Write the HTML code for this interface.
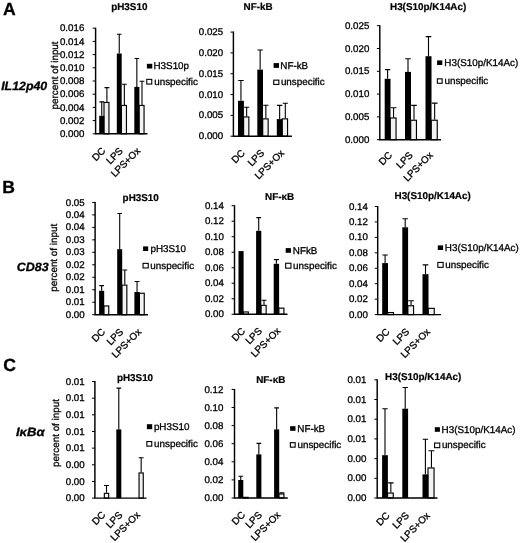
<!DOCTYPE html>
<html lang="en"><head><meta charset="utf-8"><title>ChIP figure</title>
<style>
html,body{margin:0;padding:0;background:#fff;}
body{width:520px;height:543px;overflow:hidden;}
svg{display:block;text-rendering:geometricPrecision;font-family:"Liberation Sans",sans-serif;}
.t{font-size:9.85px;fill:#000;stroke:#000;stroke-width:0.3px;}
.k{font-size:9.72px;}
.yl{font-size:9.87px;}
.tt{font-size:9.9px;font-weight:bold;fill:#000;stroke:#000;stroke-width:0.2px;}
.pl{font-size:17.6px;font-weight:bold;fill:#000;stroke:#000;stroke-width:0.3px;}
.gl{font-size:12px;font-weight:bold;font-style:italic;fill:#000;stroke:#000;stroke-width:0.3px;}
.ax{stroke:#000;stroke-width:1.45;fill:none;}
.tk{stroke:#000;stroke-width:1;fill:none;}
.eb{stroke:#000;stroke-width:1.1;fill:none;}
.bb{fill:#000;stroke:none;}
.wb{fill:#f2f2f2;stroke:#000;stroke-width:1.15;}
.wl{fill:#fff;stroke:#000;stroke-width:1.1;}
</style></head><body>
<svg width="520" height="543" viewBox="0 0 520 543">
<rect x="0" y="0" width="520" height="543" fill="#fff"/>
<g id="A1">
<path class="eb" d="M101.75 115.8 V101.9 M99.4 101.9 H104.1"/>
<path class="eb" d="M106.9 101.9 V87.6 M104.5 87.6 H109.3"/>
<rect class="wb" x="104" y="102.45" width="4.95" height="31.35"/>
<path class="eb" d="M119.25 53.5 V34.3 M117 34.3 H121.5"/>
<path class="eb" d="M124.35 104.9 V84.2 M121.9 84.2 H126.8"/>
<rect class="wb" x="121.4" y="105.45" width="5.05" height="28.35"/>
<path class="eb" d="M136.85 86.9 V58.5 M134.5 58.5 H139.2"/>
<path class="eb" d="M142 104.9 V81.2 M139.6 81.2 H144.4"/>
<rect class="wb" x="139.1" y="105.45" width="4.95" height="28.35"/>
<rect class="bb" x="99.2" y="115.8" width="5.1" height="18"/>
<rect class="bb" x="116.8" y="53.5" width="4.9" height="80.3"/>
<rect class="bb" x="134.3" y="86.9" width="5.1" height="46.9"/>
<path class="ax" d="M95.6 27.7 V133.8 H147.5"/>
<path class="tk" d="M92.7 133.8 H95.6M92.7 120.6 H95.6M92.7 107.4 H95.6M92.7 94.2 H95.6M92.7 81 H95.6M92.7 67.8 H95.6M92.7 54.6 H95.6M92.7 41.4 H95.6M92.7 28.2 H95.6"/>
<text class="t k" x="84.3" y="136.9" text-anchor="end">0.000</text>
<text class="t k" x="84.3" y="123.7" text-anchor="end">0.002</text>
<text class="t k" x="84.3" y="110.5" text-anchor="end">0.004</text>
<text class="t k" x="84.3" y="97.3" text-anchor="end">0.006</text>
<text class="t k" x="84.3" y="84.1" text-anchor="end">0.008</text>
<text class="t k" x="84.3" y="70.9" text-anchor="end">0.010</text>
<text class="t k" x="84.3" y="57.7" text-anchor="end">0.012</text>
<text class="t k" x="84.3" y="44.5" text-anchor="end">0.014</text>
<text class="t k" x="84.3" y="31.3" text-anchor="end">0.016</text>
<text class="t" text-anchor="end" transform="translate(106 151.5) rotate(-45)">DC</text>
<text class="t" text-anchor="end" transform="translate(123.5 151.5) rotate(-45)">LPS</text>
<text class="t" text-anchor="end" transform="translate(141 151.5) rotate(-45)">LPS+Ox</text>
<rect class="bb" x="146.9" y="63.8" width="5.4" height="4.7"/>
<text class="t" x="153.5" y="69.2">H3S10p</text>
<rect class="wl" x="146.75" y="79.35" width="5" height="4.7"/>
<text class="t" x="154.2" y="84.6">unspecific</text>
<text class="tt" x="111.2" y="9.6">pH3S10</text>
<text class="t yl" text-anchor="middle" transform="translate(58.2 75.4) rotate(-90)">percent of input</text>
</g>
<g id="A2">
<path class="eb" d="M240.95 100.8 V80.5 M238.2 80.5 H243.7"/>
<path class="eb" d="M246.65 116.4 V107.3 M244.1 107.3 H249.2"/>
<rect class="wb" x="243.6" y="116.95" width="5.25" height="19.25"/>
<path class="eb" d="M260.15 69.6 V50 M257.5 50 H262.8"/>
<path class="eb" d="M265.85 118.3 V105.2 M263.2 105.2 H268.5"/>
<rect class="wb" x="262.7" y="118.85" width="5.45" height="17.35"/>
<path class="eb" d="M279.65 119.1 V105.4 M277 105.4 H282.3"/>
<path class="eb" d="M285.3 118.3 V103.3 M282.7 103.3 H287.9"/>
<rect class="wb" x="282.2" y="118.85" width="5.35" height="17.35"/>
<rect class="bb" x="238" y="100.8" width="5.9" height="35.4"/>
<rect class="bb" x="257.3" y="69.6" width="5.7" height="66.6"/>
<rect class="bb" x="276.8" y="119.1" width="5.7" height="17.1"/>
<path class="ax" d="M233.4 31.6 V136.2 H291.9"/>
<path class="tk" d="M230.5 136.2 H233.4M230.5 115.38 H233.4M230.5 94.56 H233.4M230.5 73.74 H233.4M230.5 52.92 H233.4M230.5 32.1 H233.4"/>
<text class="t k" x="223.2" y="139.3" text-anchor="end">0.000</text>
<text class="t k" x="223.2" y="118.48" text-anchor="end">0.005</text>
<text class="t k" x="223.2" y="97.66" text-anchor="end">0.010</text>
<text class="t k" x="223.2" y="76.84" text-anchor="end">0.015</text>
<text class="t k" x="223.2" y="56.02" text-anchor="end">0.020</text>
<text class="t k" x="223.2" y="35.2" text-anchor="end">0.025</text>
<text class="t" text-anchor="end" transform="translate(245.6 153.7) rotate(-45)">DC</text>
<text class="t" text-anchor="end" transform="translate(264.8 153.7) rotate(-45)">LPS</text>
<text class="t" text-anchor="end" transform="translate(284.8 153.7) rotate(-45)">LPS+Ox</text>
<rect class="bb" x="273.6" y="63.1" width="5.4" height="4.8"/>
<text class="t" x="280.3" y="68.5">NF-kB</text>
<rect class="wl" x="273.75" y="80.15" width="5.1" height="4.3"/>
<text class="t" x="280.9" y="84.8">unspecific</text>
<text class="tt" x="243.6" y="9.6">NF-kB</text>
</g>
<g id="A3">
<path class="eb" d="M387.6 78.8 V69.6 M384.9 69.6 H390.3"/>
<path class="eb" d="M393.55 117.4 V107.7 M390.7 107.7 H396.4"/>
<rect class="wb" x="390.2" y="117.95" width="5.85" height="21.75"/>
<path class="eb" d="M408 71.9 V58.8 M405.2 58.8 H410.8"/>
<path class="eb" d="M414 119.7 V105.4 M411.2 105.4 H416.8"/>
<rect class="wb" x="410.7" y="120.25" width="5.75" height="19.45"/>
<path class="eb" d="M428.5 56.2 V36.6 M425.7 36.6 H431.3"/>
<path class="eb" d="M434.65 119.7 V103.1 M431.7 103.1 H437.6"/>
<rect class="wb" x="431.2" y="120.25" width="6.05" height="19.45"/>
<rect class="bb" x="384.7" y="78.8" width="5.8" height="60.9"/>
<rect class="bb" x="405" y="71.9" width="6" height="67.8"/>
<rect class="bb" x="425.5" y="56.2" width="6" height="83.5"/>
<path class="ax" d="M379.8 25.2 V139.7 H441"/>
<path class="tk" d="M376.9 139.7 H379.8M376.9 116.9 H379.8M376.9 94.1 H379.8M376.9 71.3 H379.8M376.9 48.5 H379.8M376.9 25.7 H379.8"/>
<text class="t k" x="369.3" y="142.8" text-anchor="end">0.000</text>
<text class="t k" x="369.3" y="120" text-anchor="end">0.005</text>
<text class="t k" x="369.3" y="97.2" text-anchor="end">0.010</text>
<text class="t k" x="369.3" y="74.4" text-anchor="end">0.015</text>
<text class="t k" x="369.3" y="51.6" text-anchor="end">0.020</text>
<text class="t k" x="369.3" y="28.8" text-anchor="end">0.025</text>
<text class="t" text-anchor="end" transform="translate(392.9 155.8) rotate(-45)">DC</text>
<text class="t" text-anchor="end" transform="translate(413.5 155.8) rotate(-45)">LPS</text>
<text class="t" text-anchor="end" transform="translate(433.5 155.8) rotate(-45)">LPS+Ox</text>
<rect class="bb" x="437.1" y="60.4" width="5.2" height="4.6"/>
<text class="t" x="444.3" y="65.6">H3(S10p/K14Ac)</text>
<rect class="wl" x="437.35" y="78.85" width="4.8" height="4.4"/>
<text class="t" x="444.5" y="83.9">unspecific</text>
<text class="tt" x="390" y="9.7">H3(S10p/K14Ac)</text>
</g>
<g id="B1">
<path class="eb" d="M101.65 290.8 V285.6 M99.3 285.6 H104"/>
<rect class="wb" x="103.9" y="305.95" width="4.85" height="8.75"/>
<path class="eb" d="M119.7 249.2 V213.5 M117.4 213.5 H122"/>
<path class="eb" d="M124.8 284.6 V270 M122.4 270 H127.2"/>
<rect class="wb" x="121.9" y="285.15" width="4.95" height="29.55"/>
<path class="eb" d="M137.05 292 V281.5 M134.6 281.5 H139.5"/>
<rect class="wb" x="139.4" y="293.25" width="4.85" height="21.45"/>
<rect class="bb" x="99.1" y="290.8" width="5.1" height="23.9"/>
<rect class="bb" x="117.2" y="249.2" width="5" height="65.5"/>
<rect class="bb" x="134.4" y="292" width="5.3" height="22.7"/>
<path class="ax" d="M95.1 201.9 V314.7 H148"/>
<path class="tk" d="M92.2 314.7 H95.1M92.2 302.22 H95.1M92.2 289.74 H95.1M92.2 277.27 H95.1M92.2 264.79 H95.1M92.2 252.31 H95.1M92.2 239.83 H95.1M92.2 227.36 H95.1M92.2 214.88 H95.1M92.2 202.4 H95.1"/>
<text class="t k" x="84.7" y="317.8" text-anchor="end">0.00</text>
<text class="t k" x="84.7" y="305.32" text-anchor="end">0.01</text>
<text class="t k" x="84.7" y="292.84" text-anchor="end">0.01</text>
<text class="t k" x="84.7" y="280.37" text-anchor="end">0.02</text>
<text class="t k" x="84.7" y="267.89" text-anchor="end">0.02</text>
<text class="t k" x="84.7" y="255.41" text-anchor="end">0.03</text>
<text class="t k" x="84.7" y="242.93" text-anchor="end">0.03</text>
<text class="t k" x="84.7" y="230.46" text-anchor="end">0.04</text>
<text class="t k" x="84.7" y="217.98" text-anchor="end">0.04</text>
<text class="t k" x="84.7" y="205.5" text-anchor="end">0.05</text>
<text class="t" text-anchor="end" transform="translate(105.8 332.5) rotate(-45)">DC</text>
<text class="t" text-anchor="end" transform="translate(123.8 332.5) rotate(-45)">LPS</text>
<text class="t" text-anchor="end" transform="translate(141.9 332.5) rotate(-45)">LPS+Ox</text>
<rect class="bb" x="143.1" y="246.4" width="5.1" height="4.6"/>
<text class="t" x="150.5" y="251.5">pH3S10</text>
<rect class="wl" x="143.05" y="263.35" width="5.2" height="4.6"/>
<text class="t" x="150.3" y="268.5">unspecific</text>
<text class="tt" x="122.6" y="200.6">pH3S10</text>
<text class="t yl" text-anchor="middle" transform="translate(57.3 257.8) rotate(-90)">percent of input</text>
</g>
<g id="B2">
<rect class="wb" x="243.3" y="311.95" width="5.05" height="2.35"/>
<path class="eb" d="M258.7 230.8 V217.6 M256.3 217.6 H261.1"/>
<path class="eb" d="M264 304.8 V300.3 M261.5 300.3 H266.5"/>
<rect class="wb" x="261" y="305.35" width="5.15" height="8.95"/>
<path class="eb" d="M276.4 263.8 V259.6 M273.9 259.6 H278.9"/>
<rect class="wb" x="278.8" y="308.15" width="5.15" height="6.15"/>
<rect class="bb" x="238.5" y="251.1" width="5.1" height="63.2"/>
<rect class="bb" x="256.1" y="230.8" width="5.2" height="83.5"/>
<rect class="bb" x="273.7" y="263.8" width="5.4" height="50.5"/>
<path class="ax" d="M234.5 205.2 V314.3 H287.5"/>
<path class="tk" d="M231.6 314.3 H234.5M231.6 298.79 H234.5M231.6 283.27 H234.5M231.6 267.76 H234.5M231.6 252.24 H234.5M231.6 236.73 H234.5M231.6 221.21 H234.5M231.6 205.7 H234.5"/>
<text class="t k" x="223.9" y="317.4" text-anchor="end">0.00</text>
<text class="t k" x="223.9" y="301.89" text-anchor="end">0.02</text>
<text class="t k" x="223.9" y="286.37" text-anchor="end">0.04</text>
<text class="t k" x="223.9" y="270.86" text-anchor="end">0.06</text>
<text class="t k" x="223.9" y="255.34" text-anchor="end">0.08</text>
<text class="t k" x="223.9" y="239.83" text-anchor="end">0.10</text>
<text class="t k" x="223.9" y="224.31" text-anchor="end">0.12</text>
<text class="t k" x="223.9" y="208.8" text-anchor="end">0.14</text>
<text class="t" text-anchor="end" transform="translate(245.7 331.6) rotate(-45)">DC</text>
<text class="t" text-anchor="end" transform="translate(262.6 331.6) rotate(-45)">LPS</text>
<text class="t" text-anchor="end" transform="translate(281.1 331.6) rotate(-45)">LPS+Ox</text>
<rect class="bb" x="285.7" y="248.1" width="5.2" height="4.7"/>
<text class="t" x="292.8" y="253.7">NFkB</text>
<rect class="wl" x="285.65" y="263.25" width="5.3" height="4.9"/>
<text class="t" x="293.1" y="268.6">unspecific</text>
<text class="tt" x="265.1" y="199.6">NF-κB</text>
</g>
<g id="B3">
<path class="eb" d="M385.1 263.1 V255 M382.4 255 H387.8"/>
<rect class="wb" x="387.7" y="312.55" width="5.75" height="2.05"/>
<path class="eb" d="M405.2 227.3 V218.8 M402.5 218.8 H407.9"/>
<path class="eb" d="M411.1 305.2 V300.8 M408.3 300.8 H413.9"/>
<rect class="wb" x="407.8" y="305.75" width="5.75" height="8.85"/>
<path class="eb" d="M425.5 274.2 V264.9 M422.7 264.9 H428.3"/>
<rect class="wb" x="428.2" y="308.35" width="6.05" height="6.25"/>
<rect class="bb" x="382.2" y="263.1" width="5.8" height="51.5"/>
<rect class="bb" x="402.3" y="227.3" width="5.8" height="87.3"/>
<rect class="bb" x="422.5" y="274.2" width="6" height="40.4"/>
<path class="ax" d="M377.7 206 V314.6 H441"/>
<path class="tk" d="M374.8 314.6 H377.7M374.8 299.16 H377.7M374.8 283.71 H377.7M374.8 268.27 H377.7M374.8 252.83 H377.7M374.8 237.39 H377.7M374.8 221.94 H377.7M374.8 206.5 H377.7"/>
<text class="t k" x="367.8" y="317.7" text-anchor="end">0.00</text>
<text class="t k" x="367.8" y="302.26" text-anchor="end">0.02</text>
<text class="t k" x="367.8" y="286.81" text-anchor="end">0.04</text>
<text class="t k" x="367.8" y="271.37" text-anchor="end">0.06</text>
<text class="t k" x="367.8" y="255.93" text-anchor="end">0.08</text>
<text class="t k" x="367.8" y="240.49" text-anchor="end">0.10</text>
<text class="t k" x="367.8" y="225.04" text-anchor="end">0.12</text>
<text class="t k" x="367.8" y="209.6" text-anchor="end">0.14</text>
<text class="t" text-anchor="end" transform="translate(390.2 332.4) rotate(-45)">DC</text>
<text class="t" text-anchor="end" transform="translate(410 332.4) rotate(-45)">LPS</text>
<text class="t" text-anchor="end" transform="translate(430.8 332.4) rotate(-45)">LPS+Ox</text>
<rect class="bb" x="437.8" y="245.4" width="5.3" height="4.6"/>
<text class="t" x="444.8" y="250.7">H3(S10p/K14Ac)</text>
<rect class="wl" x="437.85" y="262.45" width="5.3" height="4.9"/>
<text class="t" x="445.2" y="268">unspecific</text>
<text class="tt" x="394.5" y="198.8">H3(S10p/K14Ac)</text>
</g>
<g id="C1">
<path class="eb" d="M106.5 492.8 V485.5 M104 485.5 H109"/>
<rect class="wb" x="104.35" y="493.35" width="4.3" height="4.75"/>
<path class="eb" d="M118.8 429.4 V388.1 M116.5 388.1 H121.1"/>
<path class="eb" d="M141.15 472.4 V457.7 M138.7 457.7 H143.6"/>
<rect class="wb" x="139.05" y="472.95" width="4.2" height="25.15"/>
<rect class="bb" x="116.3" y="429.4" width="5" height="68.7"/>
<path class="ax" d="M94.9 381 V498.1 H146.5"/>
<path class="tk" d="M92 498.1 H94.9M92 481.44 H94.9M92 464.79 H94.9M92 448.13 H94.9M92 431.47 H94.9M92 414.81 H94.9M92 398.16 H94.9M92 381.5 H94.9"/>
<text class="t k" x="84.7" y="501.2" text-anchor="end">0.00</text>
<text class="t k" x="84.7" y="484.54" text-anchor="end">0.00</text>
<text class="t k" x="84.7" y="467.89" text-anchor="end">0.00</text>
<text class="t k" x="84.7" y="451.23" text-anchor="end">0.01</text>
<text class="t k" x="84.7" y="434.57" text-anchor="end">0.01</text>
<text class="t k" x="84.7" y="417.91" text-anchor="end">0.01</text>
<text class="t k" x="84.7" y="401.26" text-anchor="end">0.01</text>
<text class="t k" x="84.7" y="384.6" text-anchor="end">0.01</text>
<text class="t" text-anchor="end" transform="translate(106.1 515.5) rotate(-45)">DC</text>
<text class="t" text-anchor="end" transform="translate(123.1 515.5) rotate(-45)">LPS</text>
<text class="t" text-anchor="end" transform="translate(140.7 515.5) rotate(-45)">LPS+Ox</text>
<rect class="bb" x="146.9" y="424.2" width="5.3" height="5"/>
<text class="t" x="153.9" y="429.6">pH3S10</text>
<rect class="wl" x="146.85" y="441.55" width="4.9" height="4.6"/>
<text class="t" x="154.1" y="446.6">unspecific</text>
<text class="tt" x="116.9" y="380.6">pH3S10</text>
<text class="t yl" text-anchor="middle" transform="translate(58.6 433) rotate(-90)">percent of input</text>
</g>
<g id="C2">
<path class="eb" d="M240.75 480 V476.2 M238.4 476.2 H243.1"/>
<rect class="wb" x="243" y="497.35" width="5.05" height="0.65"/>
<path class="eb" d="M258.85 454.4 V443.4 M256.5 443.4 H261.2"/>
<path class="eb" d="M276.65 429.4 V407.9 M274.3 407.9 H279"/>
<path class="eb" d="M281.85 493.4 V492.9 M279.4 492.9 H284.3"/>
<rect class="wb" x="278.9" y="493.95" width="5.05" height="4.05"/>
<rect class="bb" x="238.2" y="480" width="5.1" height="18"/>
<rect class="bb" x="256.3" y="454.4" width="5.1" height="43.6"/>
<rect class="bb" x="274.1" y="429.4" width="5.1" height="68.6"/>
<path class="ax" d="M234.5 388.9 V498 H287.8"/>
<path class="tk" d="M231.6 498 H234.5M231.6 479.9 H234.5M231.6 461.8 H234.5M231.6 443.7 H234.5M231.6 425.6 H234.5M231.6 407.5 H234.5M231.6 389.4 H234.5"/>
<text class="t k" x="223.3" y="501.1" text-anchor="end">0.00</text>
<text class="t k" x="223.3" y="483" text-anchor="end">0.02</text>
<text class="t k" x="223.3" y="464.9" text-anchor="end">0.04</text>
<text class="t k" x="223.3" y="446.8" text-anchor="end">0.06</text>
<text class="t k" x="223.3" y="428.7" text-anchor="end">0.08</text>
<text class="t k" x="223.3" y="410.6" text-anchor="end">0.10</text>
<text class="t k" x="223.3" y="392.5" text-anchor="end">0.12</text>
<text class="t" text-anchor="end" transform="translate(245.7 515.5) rotate(-45)">DC</text>
<text class="t" text-anchor="end" transform="translate(262.6 515.5) rotate(-45)">LPS</text>
<text class="t" text-anchor="end" transform="translate(281.1 515.5) rotate(-45)">LPS+Ox</text>
<rect class="bb" x="290.1" y="426.2" width="5.4" height="4.6"/>
<text class="t" x="297.3" y="431.8">NF-kB</text>
<rect class="wl" x="290.35" y="442.65" width="4.8" height="4.5"/>
<text class="t" x="297.5" y="447.7">unspecific</text>
<text class="tt" x="256.2" y="383.2">NF-κB</text>
</g>
<g id="C3">
<path class="eb" d="M385 455.2 V408.7 M382.3 408.7 H387.7"/>
<path class="eb" d="M390.85 492.5 V482.9 M388.1 482.9 H393.6"/>
<rect class="wb" x="387.6" y="493.05" width="5.65" height="4.95"/>
<path class="eb" d="M405.2 408.7 V387.5 M402.5 387.5 H407.9"/>
<path class="eb" d="M425.4 474.4 V439.2 M422.7 439.2 H428.1"/>
<path class="eb" d="M431.45 467.4 V450.8 M428.5 450.8 H434.4"/>
<rect class="wb" x="428" y="467.95" width="6.05" height="30.05"/>
<rect class="bb" x="382.1" y="455.2" width="5.8" height="42.8"/>
<rect class="bb" x="402.3" y="408.7" width="5.8" height="89.3"/>
<rect class="bb" x="422.5" y="474.4" width="5.8" height="23.6"/>
<path class="ax" d="M377.2 379.3 V498 H437.5"/>
<path class="tk" d="M374.3 498 H377.2M374.3 478.3 H377.2M374.3 458.6 H377.2M374.3 438.9 H377.2M374.3 419.2 H377.2M374.3 399.5 H377.2M374.3 379.8 H377.2"/>
<text class="t k" x="366.3" y="501.1" text-anchor="end">0.00</text>
<text class="t k" x="366.3" y="481.4" text-anchor="end">0.00</text>
<text class="t k" x="366.3" y="461.7" text-anchor="end">0.00</text>
<text class="t k" x="366.3" y="442" text-anchor="end">0.01</text>
<text class="t k" x="366.3" y="422.3" text-anchor="end">0.01</text>
<text class="t k" x="366.3" y="402.6" text-anchor="end">0.01</text>
<text class="t k" x="366.3" y="382.9" text-anchor="end">0.01</text>
<text class="t" text-anchor="end" transform="translate(390.2 516.2) rotate(-45)">DC</text>
<text class="t" text-anchor="end" transform="translate(409.7 516.2) rotate(-45)">LPS</text>
<text class="t" text-anchor="end" transform="translate(430.6 516.2) rotate(-45)">LPS+Ox</text>
<rect class="bb" x="434.8" y="427.2" width="5.1" height="4.6"/>
<text class="t" x="441.6" y="432.8">H3(S10p/K14Ac)</text>
<rect class="wl" x="434.55" y="443.05" width="5.2" height="4.6"/>
<text class="t" x="441.9" y="448.4">unspecific</text>
<text class="tt" x="385.1" y="380.2">H3(S10p/K14Ac)</text>
</g>
<text class="pl" x="2.9" y="14.8">A</text>
<text class="pl" x="2.3" y="193.3">B</text>
<text class="pl" x="3.2" y="370.7">C</text>
<text class="gl" x="1.2" y="90.2" textLength="46" lengthAdjust="spacingAndGlyphs">IL12p40</text>
<text class="gl" x="16.8" y="271.3" textLength="31.9" lengthAdjust="spacingAndGlyphs">CD83</text>
<text class="gl" x="15.9" y="435.6" textLength="28.6" lengthAdjust="spacingAndGlyphs">IκBα</text>
</svg></body></html>
